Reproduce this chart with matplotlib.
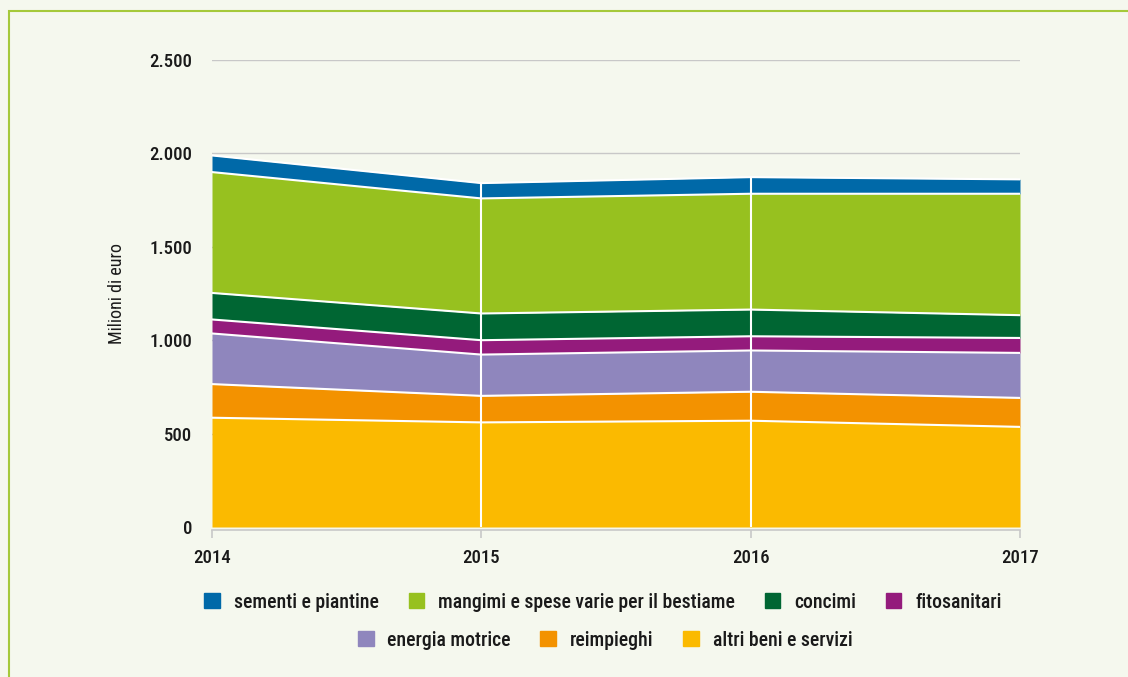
import matplotlib
matplotlib.use("Agg")
import matplotlib.pyplot as plt
from matplotlib.patches import Patch, Rectangle
from matplotlib import font_manager

years = [2014, 2015, 2016, 2017]
series_names = ["sementi e piantine", "mangimi e spese varie per il bestiame", "concimi",
                "fitosanitari", "energia motrice", "reimpieghi", "altri beni e servizi"]
altri = [585, 560, 569, 536]
reimpieghi = [180, 142, 155, 155]
energia = [271, 221, 221, 241]
fitosanitari = [75, 77, 76, 80]
concimi = [142, 143, 143, 122]
mangimi = [647, 616, 620, 650]
sementi = [89, 82, 89, 77]
yticks = [0, 500, 1000, 1500, 2000, 2500]
ytick_labels = ["0", "500", "1.000", "1.500", "2.000", "2.500"]

colors = {
    "sementi e piantine": "#0069A8",
    "mangimi e spese varie per il bestiame": "#97C11F",
    "concimi": "#006633",
    "fitosanitari": "#941B7C",
    "energia motrice": "#8F86BD",
    "reimpieghi": "#F39200",
    "altri beni e servizi": "#FBBA00",
}

names = set(f.name for f in font_manager.fontManager.ttflist)
fam = "Roboto"
for cand in ["Roboto Condensed", "Liberation Sans Narrow", "Open Sans Condensed", "Noto Sans Condensed",
             "DejaVu Sans Condensed"]:
    if cand in names:
        fam = cand
        break
plt.rcParams["font.family"] = [fam, "DejaVu Sans"]
plt.rcParams["font.weight"] = "medium"
fs = 13.5
txt = "#1a1a1a"

bg = "#F5F8EE"
fig = plt.figure(figsize=(11.28, 6.77), dpi=100, facecolor=bg)
fig.patches.append(Rectangle((9 / 1128, -0.01), 1.2, 1 - 11 / 677 + 0.01, transform=fig.transFigure,
                             fill=False, edgecolor="#A5C93A", linewidth=1.5))
ax = fig.add_axes([212 / 1128, 1 - 527 / 677, (1020 - 212) / 1128, (527 - 60) / 677])
ax.set_facecolor(bg)

stack_order = [("altri beni e servizi", altri), ("reimpieghi", reimpieghi), ("energia motrice", energia),
               ("fitosanitari", fitosanitari), ("concimi", concimi),
               ("mangimi e spese varie per il bestiame", mangimi), ("sementi e piantine", sementi)]

for y in yticks[1:]:
    ax.axhline(y, color="#C8C8C8", linewidth=1, zorder=0)

base = [0, 0, 0, 0]
for name, vals in stack_order:
    top = [b + v for b, v in zip(base, vals)]
    ax.fill_between(years, base, top, color=colors[name], linewidth=0, zorder=2)
    ax.plot(years, top, color="white", linewidth=1.5, zorder=3)
    base = top

ax.vlines(years[1:3], 0, base[1:3], color="white", linewidth=1.5, zorder=4)

ax.set_xlim(2014, 2017)
ax.set_ylim(0, 2500)
ax.set_yticks(yticks)
ax.set_yticklabels(ytick_labels)
ax.set_xticks(years)
ax.set_xticklabels([str(y) for y in years])
for k, s in ax.spines.items():
    s.set_visible(k == "bottom")
ax.spines["bottom"].set_color("#C8C8C8")
ax.spines["bottom"].set_linewidth(1.2)
ax.spines["bottom"].set_position(("outward", 2))
ax.tick_params(axis="both", labelsize=fs, labelcolor=txt)
ax.tick_params(axis="y", length=0, pad=14)
ax.tick_params(axis="x", length=6, width=1.2, color="#C8C8C8", pad=8)
ax.set_ylabel("Milioni di euro", fontsize=13, color=txt, labelpad=17)

row1 = series_names[:4]
row2 = series_names[4:]
h1 = [Patch(color=colors[n]) for n in row1]
h2 = [Patch(color=colors[n]) for n in row2]
common = dict(frameon=False, prop={"size": 14.2, "weight": "medium"}, handlelength=0.8, handleheight=0.8,
              handletextpad=0.7, columnspacing=1.5, labelcolor=txt)
leg1 = fig.legend(h1, row1, loc="center", bbox_to_anchor=(603 / 1128, 1 - 602 / 677), ncol=4, **common)
leg2 = fig.legend(h2, row2, loc="center", bbox_to_anchor=(605 / 1128, 1 - 640 / 677), ncol=3, **common)

fig.savefig("out.png", dpi=100, facecolor=bg)
